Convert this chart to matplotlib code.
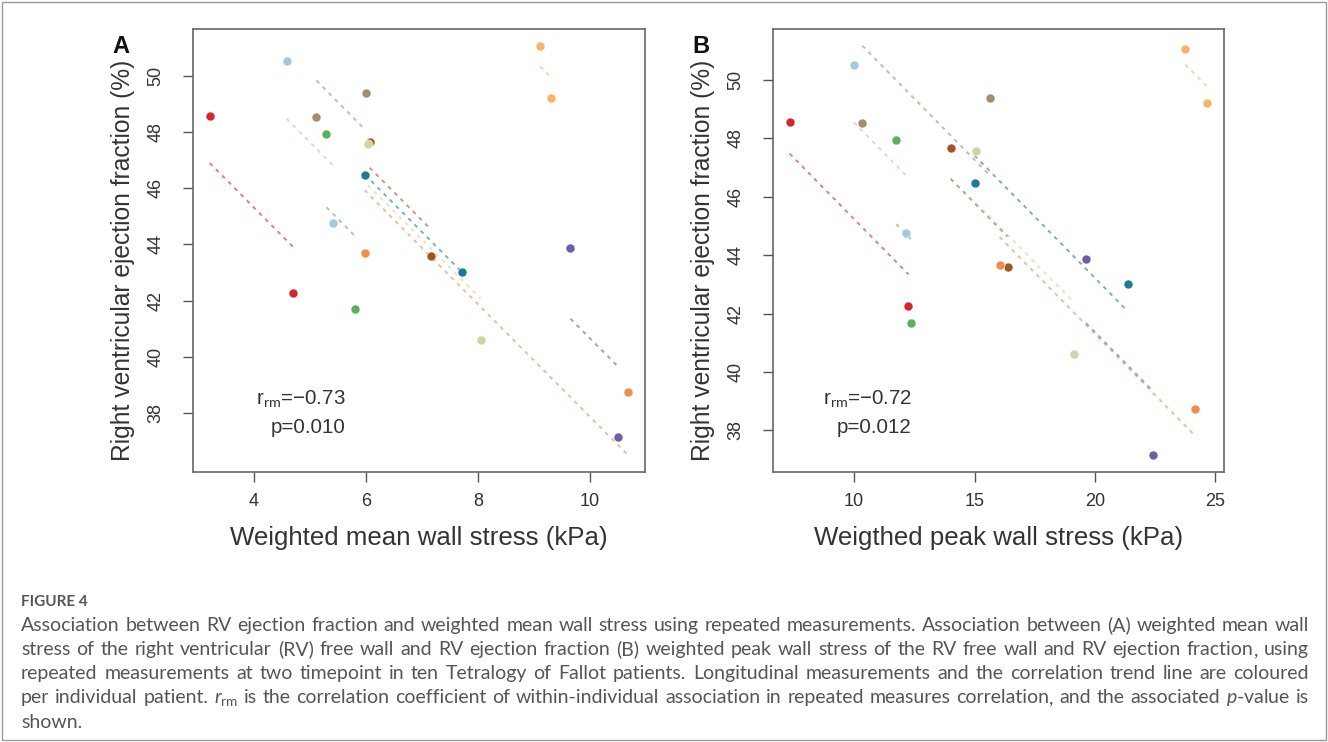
# Repeated-measures correlation: RVEF vs wall stress (two panels + caption)

import matplotlib
matplotlib.use("Agg")
import matplotlib.pyplot as plt
import numpy as np
from matplotlib.patches import Rectangle

plt.rcParams['font.family'] = ['Liberation Sans', 'DejaVu Sans']
plt.rcParams['mathtext.fontset'] = 'custom'
plt.rcParams['mathtext.rm'] = 'Lato'
plt.rcParams['mathtext.it'] = 'Lato:italic'

# one colour per patient
colours = ['#d7262b', '#a6c8dc', '#a38d6d', '#5bb15b', '#a0561e',
           '#1b7a9e', '#c7d9a0', '#f6b46a', '#6e5ea8', '#ee8e4a']

# two timepoints per patient
mean_ws = [[3.22, 4.70], [4.59, 5.42], [5.12, 6.00], [5.30, 5.81], [6.07, 7.17],
           [5.99, 7.71], [6.04, 8.05], [9.11, 9.30], [9.65, 10.50], [5.98, 10.68]]
peak_ws = [[7.33, 12.26], [9.99, 12.15], [10.34, 15.64], [11.75, 12.36], [14.01, 16.37],
           [15.00, 21.35], [15.07, 19.12], [23.75, 24.66], [19.63, 22.42], [16.04, 24.17]]
rvef = [[48.56, 42.26], [50.52, 44.76], [48.52, 49.38], [47.93, 41.69], [47.66, 43.59],
        [46.48, 43.02], [47.57, 40.61], [51.07, 49.22], [43.86, 37.15], [43.68, 38.75]]

panels = ['A', 'B']
xlabels = ['Weighted mean wall stress (kPa)', 'Weigthed peak wall stress (kPa)']
xticks = [[4, 6, 8, 10], [10, 15, 20, 25]]
r_text = ['r$_{\\mathrm{rm}}$=\u22120.73', 'r$_{\\mathrm{rm}}$=\u22120.72']
p_text = ['p=0.010', 'p=0.012']
text_x = [0.338, 0.308]

caption_title = 'FIGURE 4'
caption_lines = [
    'Association between RV ejection fraction and weighted mean wall stress using repeated measurements. Association between (A) weighted mean wall',
    'stress of the right ventricular (RV) free wall and RV ejection fraction (B) weighted peak wall stress of the RV free wall and RV ejection fraction, using',
    'repeated measurements at two timepoint in ten Tetralogy of Fallot patients. Longitudinal measurements and the correlation trend line are coloured',
    'per individual patient. $r_{\\mathrm{rm}}$ is the correlation coefficient of within-individual association in repeated measures correlation, and the associated $p$-value is',
    'shown.',
]

W, H = 1328, 742
fig = plt.figure(figsize=(W / 100, H / 100), dpi=100)

axes = [fig.add_axes([193 / W, 1 - 471.7 / H, 452 / W, 442.4 / H]),
        fig.add_axes([773 / W, 1 - 471.7 / H, 451 / W, 442.4 / H])]

for k, (ax, xs) in enumerate(zip(axes, [mean_ws, peak_ws])):
    x = np.array(xs)
    y = np.array(rvef)
    # common within-subject slope (rmcorr)
    xc = x - x.mean(axis=1, keepdims=True)
    yc = y - y.mean(axis=1, keepdims=True)
    slope = (xc * yc).sum() / (xc ** 2).sum()
    for i in range(len(colours)):
        xx = np.array([x[i].min(), x[i].max()])
        yy = y[i].mean() + slope * (xx - x[i].mean())
        ax.plot(xx, yy, color=colours[i], lw=1.4, alpha=0.6, linestyle=(0, (2, 2.5)))
    for i in range(len(colours)):
        ax.plot(x[i], y[i], 'o', color=colours[i], ms=6.5, mec='white', mew=0.4, zorder=3)

    ax.margins(x=0.04, y=0.04)
    ax.set_xticks(xticks[k])
    ax.set_yticks([38, 40, 42, 44, 46, 48, 50])
    ax.tick_params(direction='out', length=7.5, width=1, color='#555555',
                   labelsize=13, labelcolor='#333333')
    ax.tick_params(axis='x', pad=8)
    ax.tick_params(axis='y', pad=13)
    for lab in ax.get_yticklabels():
        lab.set_rotation(90)
        lab.set_va('center')
    for s in ax.spines.values():
        s.set_color('#666666')
        s.set_linewidth(1.2)
    ax.set_xlabel(xlabels[k], fontsize=18.6, color='#333333')
    ax.set_ylabel('Right ventricular ejection fraction (%)', fontsize=17.7, color='#333333')
    ax.xaxis.set_label_coords(0.5, -0.123)
    ax.yaxis.set_label_coords(-0.128, 0.478)
    ax.text(text_x[k], 0.163, r_text[k], transform=ax.transAxes, ha='right', va='center',
            fontsize=14.8, color='#333333')
    ax.text(text_x[k], 0.101, p_text[k], transform=ax.transAxes, ha='right', va='center',
            fontsize=14.8, color='#333333')

fig.text(112 / W, 1 - 53 / H, panels[0], fontsize=17, fontweight='bold', color='#111111')
fig.text(692 / W, 1 - 53 / H, panels[1], fontsize=17, fontweight='bold', color='#111111')

# caption, justified word by word
cap_font = dict(family=['Lato', 'DejaVu Sans'], fontsize=14, color='#555555', va='baseline')
fig.text(21 / W, 1 - 606 / H, caption_title, family=['Lato', 'DejaVu Sans'], fontsize=11,
         fontweight='bold', color='#555555', va='baseline')

fig.canvas.draw()
renderer = fig.canvas.get_renderer()
x0, x1 = 21, 1309
baselines = [631, 655, 679, 703, 728]
for n, (line, yb) in enumerate(zip(caption_lines, baselines)):
    words = line.split(' ')
    groups = []
    for w in words:
        parts = [w[:-1], ','] if w.endswith(',') else [w]
        ts = [fig.text(0, 1 - yb / H, p, **cap_font) for p in parts]
        ws = [t.get_window_extent(renderer).width for t in ts]
        groups.append((ts, ws))
    total = sum(sum(ws) for _, ws in groups)
    if n < len(caption_lines) - 1:
        gap = (x1 - x0 - total) / (len(words) - 1)
    else:
        gap = 5.0
    pos = x0
    for ts, ws in groups:
        for t, w in zip(ts, ws):
            t.set_x(pos / W)
            pos += w
        pos += gap

fig.patches.append(Rectangle((2 / W, 2 / H), 1 - 4 / W, 1 - 4 / H, transform=fig.transFigure,
                             fill=False, edgecolor='#9a9a9a', lw=1))

fig.savefig('out.png', dpi=100)
